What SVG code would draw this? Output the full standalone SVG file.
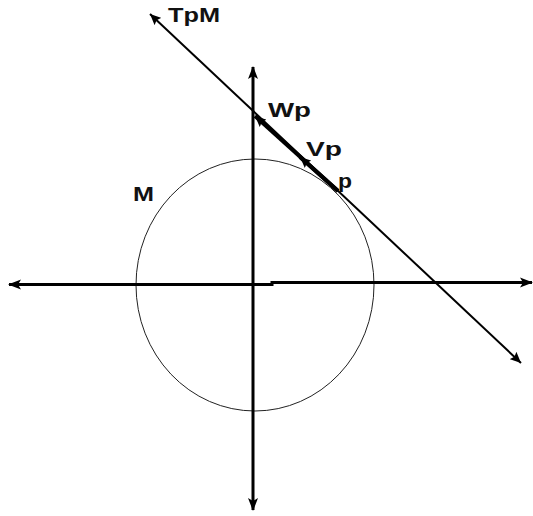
<svg xmlns="http://www.w3.org/2000/svg" width="533" height="516" viewBox="0 0 533 516">
  <defs>
    <marker id="arr" markerUnits="userSpaceOnUse" markerWidth="14" markerHeight="12" refX="12" refY="5" orient="auto-start-reverse" viewBox="0 0 14 10">
      <path d="M0,0 L13,5 L0,10 L3,5 Z" fill="#000"/>
    </marker>
    <marker id="arrS" markerUnits="userSpaceOnUse" markerWidth="12" markerHeight="10" refX="11" refY="5" orient="auto-start-reverse" viewBox="0 0 12 10">
      <path d="M0,0 L11,5 L0,10 L2,5 Z" fill="#000"/>
    </marker>
    <style>
      .axis { fill: none; stroke: #000; stroke-width: 3; }
      .tan { fill: none; stroke: #000; stroke-width: 2; }
      .vec { fill: none; stroke: #000; stroke-width: 4; }
      .lbl { font-family: "Liberation Sans", Arial, sans-serif; font-weight: bold; font-size: 21px; fill: #111; }
    </style>
  </defs>
  <rect width="533" height="516" fill="#fff"/>

  <g id="circle-M">
    <ellipse cx="255" cy="285" rx="119" ry="126" fill="none" stroke="#222" stroke-width="1"/>
  </g>

  <g id="connectors">
    <path id="x-axis" class="axis" d="M9,284.5 H272 V282.5 H532" marker-start="url(#arr)" marker-end="url(#arr)"/>
    <path id="y-axis" class="axis" d="M253,67 V510" marker-start="url(#arr)" marker-end="url(#arr)"/>
    <path id="tangent" class="tan" d="M150,14 L521,363" marker-start="url(#arrS)" marker-end="url(#arrS)"/>
    <path id="vec-Wp" class="vec" d="M338,191 L255,116" marker-end="url(#arrS)"/>
    <path id="vec-Vp" class="vec" d="M338,191 L300,157" marker-end="url(#arrS)"/>
  </g>

  <g id="label-TpM"><text class="lbl" x="168" y="22" textLength="52" lengthAdjust="spacingAndGlyphs">TpM</text></g>
  <g id="label-Wp"><text class="lbl" x="268" y="117" textLength="43" lengthAdjust="spacingAndGlyphs">Wp</text></g>
  <g id="label-Vp"><text class="lbl" x="306" y="156" textLength="36" lengthAdjust="spacingAndGlyphs">Vp</text></g>
  <g id="label-p"><text class="lbl" x="338" y="188" textLength="14" lengthAdjust="spacingAndGlyphs">p</text></g>
  <g id="label-M"><text class="lbl" x="133" y="201" textLength="21" lengthAdjust="spacingAndGlyphs">M</text></g>
</svg>
